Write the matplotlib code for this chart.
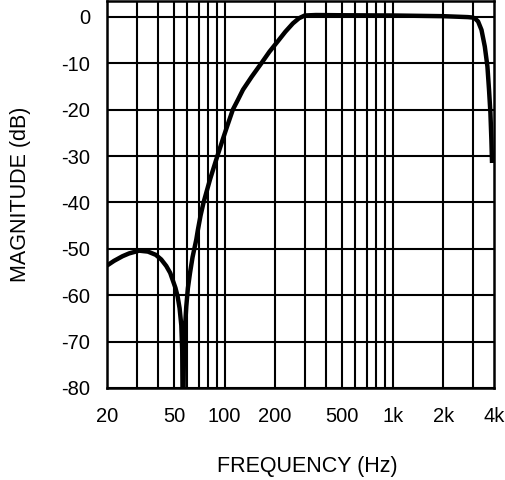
import matplotlib
matplotlib.use('Agg')
import matplotlib.pyplot as plt
from matplotlib.ticker import FixedLocator, NullFormatter

# magnitude response
freq_hz = [20, 22, 24.7, 27, 31, 35, 39, 42, 45, 47.5, 49, 51, 52.6, 54, 55.3, 56,
           56.6, 57.2, 57.8, 58.5, 59.2, 60.5, 62.3, 64.5, 67.9, 69.4, 72, 75,
           82, 90.6, 97.8, 104, 112, 120, 128.7, 145, 165.5, 185, 208, 230, 255,
           277, 300, 350, 500, 1000, 2000, 2800, 3000, 3100, 3222, 3375, 3532,
           3661, 3742, 3814, 3865, 3900]
mag_db = [-53.6, -52.6, -51.6, -51.0, -50.4, -50.6, -51.3, -52.3, -53.7, -55.2,
          -56.6, -58.4, -60.3, -62.8, -66.5, -72, -95, -75, -69.6, -65.5, -62.4,
          -58.5, -55.2, -51.8, -48, -45.9, -42.8, -40, -35.0, -30, -26.3, -23.4,
          -20, -17.9, -15.7, -12.9, -10, -7.5, -5.2, -3.2, -1.4, -0.3, 0.3, 0.4,
          0.35, 0.3, 0.15, -0.05, -0.15, -0.4, -1.0, -2.8, -6.4, -10.7, -15.7,
          -20.7, -26.5, -31.5]

y_ticks = [0, -10, -20, -30, -40, -50, -60, -70, -80]
x_grid = [30, 40, 50, 60, 70, 80, 90, 100, 200, 300, 400, 500, 600, 700, 800,
          900, 1000, 2000, 3000]
x_ticks = [20, 50, 100, 200, 500, 1000, 2000, 4000]
x_labels = ['20', '50', '100', '200', '500', '1k', '2k', '4k']

plt.rcParams['font.family'] = ['Liberation Sans', 'DejaVu Sans']
plt.rcParams['axes.unicode_minus'] = False

fig = plt.figure(figsize=(5.05, 4.8), dpi=100)
ax = fig.add_axes([0.212, 0.1917, 0.766, 0.806])

ax.plot(freq_hz, mag_db, color='black', linewidth=3.2, solid_capstyle='butt',
        solid_joinstyle='round', zorder=3)

ax.set_xscale('log')
ax.set_xlim(20, 4000)
ax.set_ylim(-80, 3.4)

for f in x_grid:
    ax.axvline(f, color='black', linewidth=1.5, zorder=1)
for v in y_ticks:
    ax.axhline(v, color='black', linewidth=1.5, zorder=1)

ax.xaxis.set_major_locator(FixedLocator(x_ticks))
ax.xaxis.set_minor_formatter(NullFormatter())
ax.xaxis.set_minor_locator(FixedLocator([]))
ax.set_xticklabels(x_labels)
ax.set_yticks(y_ticks)
ax.tick_params(axis='both', length=0, labelsize=14.5)
ax.tick_params(axis='x', pad=14)
ax.tick_params(axis='y', pad=12)

for s in ax.spines.values():
    s.set_linewidth(1.8)

ax.set_xlabel('FREQUENCY (Hz)', fontsize=15.5)
ax.xaxis.set_label_coords(0.517, -0.175)
ax.set_ylabel('MAGNITUDE (dB)', fontsize=15.5, labelpad=22)

fig.savefig('out.png', dpi=100)
